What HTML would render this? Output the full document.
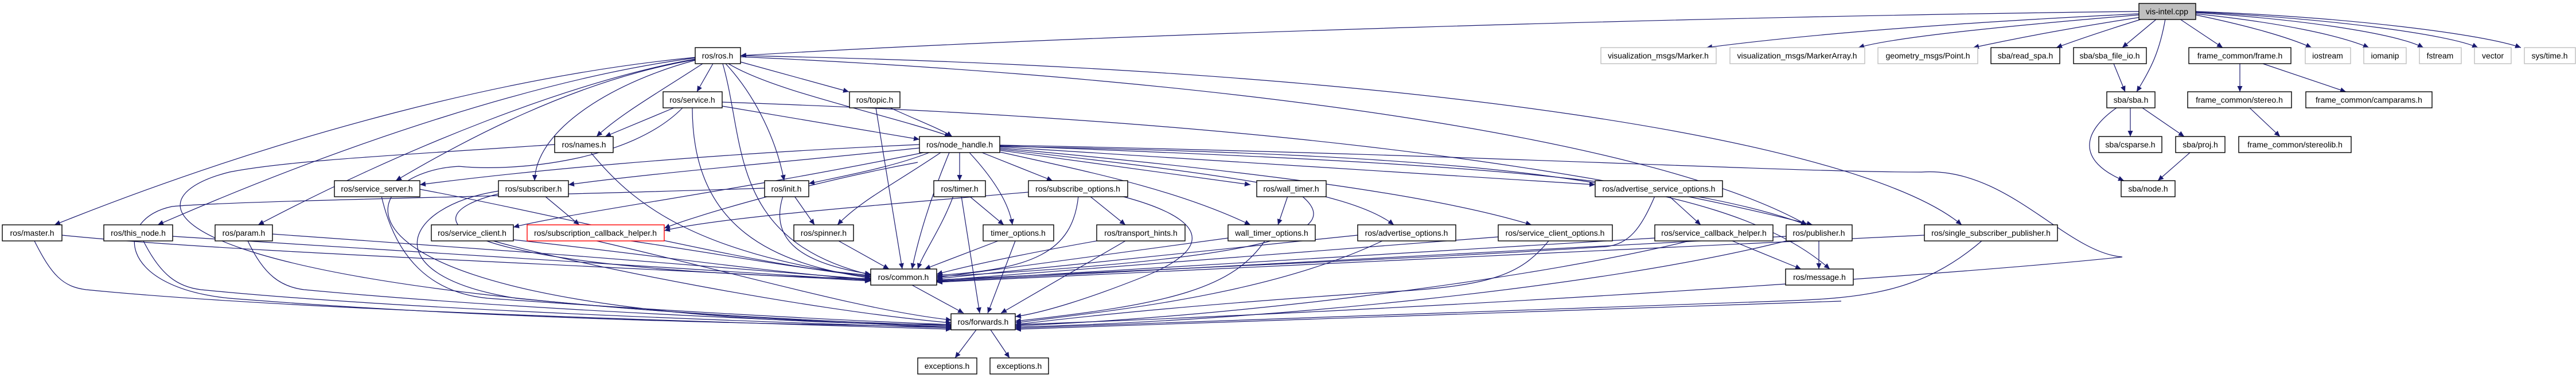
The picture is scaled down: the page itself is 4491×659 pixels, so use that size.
<!DOCTYPE html>
<html><head><meta charset="utf-8"><style>
html,body{margin:0;padding:0;background:#fff}
svg{display:block}
text{font-family:"Liberation Sans","DejaVu Sans",sans-serif;font-size:14px;fill:#000}
.n{fill:#fff;stroke:#000;stroke-width:1.4}
.g{fill:#fff;stroke:#bfbfbf;stroke-width:1.4}
.r{fill:#fff;stroke:#ff0000;stroke-width:1.4}
.e path{fill:none;stroke:#191970;stroke-width:1.2}
</style></head><body>
<svg width="4491" height="659" viewBox="0 0 4491 659" xmlns="http://www.w3.org/2000/svg">
<defs><marker id="a" markerUnits="userSpaceOnUse" markerWidth="11" markerHeight="9" refX="10" refY="4.5" orient="auto"><path d="M0,0 L10,4.5 L0,9 z" fill="#191970"/></marker></defs>
<g class="e" marker-end="url(#a)">
<path d="M3729,20 C3000,28 1900,60 1291,97"/>
<path d="M3729,24 C3400,40 3150,60 2975,83"/>
<path d="M3729,26 C3500,45 3300,65 3240,83"/>
<path d="M3732,30 C3600,50 3500,70 3440,83"/>
<path d="M3735,33 C3680,50 3620,70 3585,83"/>
<path d="M3760,33 L3700,83"/>
<path d="M3775,33 C3765,90 3750,120 3725,160"/>
<path d="M3800,33 L3875,83"/>
<path d="M3828,26 C3920,45 3990,65 4030,83"/>
<path d="M3828,24 C3980,40 4080,62 4130,83"/>
<path d="M3828,22 C4030,35 4180,60 4225,83"/>
<path d="M3828,21 C4060,32 4270,60 4320,83"/>
<path d="M3828,20 C4100,30 4330,60 4395,83"/>
<path d="M3685,111 L3705,160"/>
<path d="M3905,111 L3905,160"/>
<path d="M3945,111 L4090,160"/>
<path d="M3922,188 L3975,238"/>
<path d="M3714,188 L3714,238"/>
<path d="M3735,188 L3808,238"/>
<path d="M3690,188 C3630,230 3620,280 3703,315"/>
<path d="M3818,266 L3762,315"/>
<path d="M1243,111 L1215,160"/>
<path d="M1291,108 L1480,160"/>
<path d="M1225,111 C1150,160 1080,200 1040,238"/>
<path d="M1212,105 C1080,140 935,220 932,315"/>
<path d="M1212,104 C1000,140 800,250 690,315"/>
<path d="M1212,100 C900,130 500,230 95,392"/>
<path d="M1212,101 C950,135 600,250 275,392"/>
<path d="M1212,103 C1000,140 700,260 450,392"/>
<path d="M1270,111 C1350,160 1550,200 1657,238"/>
<path d="M1265,111 C1320,170 1355,250 1367,315"/>
<path d="M1260,111 C1300,250 1270,420 1520,480"/>
<path d="M1291,99 C2200,140 2900,250 3150,392"/>
<path d="M1291,97 C2500,120 3250,250 3420,392"/>
<path d="M1175,188 L1055,238"/>
<path d="M1259,185 L1603,243"/>
<path d="M1207,188 C1207,400 1350,460 1518,485"/>
<path d="M1190,188 C1100,280 900,300 800,290 C600,300 500,560 1659,566"/>
<path d="M1259,178 C1900,200 2600,250 3160,392"/>
<path d="M1527,188 L1573,469"/>
<path d="M1552,188 C1600,210 1640,225 1660,238"/>
<path d="M1030,266 C1100,350 1200,440 1518,483"/>
<path d="M967,252 C700,270 500,280 400,300 C200,350 250,520 1659,568"/>
<path d="M1603,252 C1200,270 900,300 732,322"/>
<path d="M1603,258 C1400,280 1150,300 991,322"/>
<path d="M1620,266 C1560,290 1480,305 1410,320"/>
<path d="M1610,266 C1300,330 1000,370 895,396"/>
<path d="M1600,283 C1400,320 1200,380 1158,398"/>
<path d="M1640,266 C1560,320 1500,350 1460,392"/>
<path d="M1673,266 L1673,315"/>
<path d="M1690,266 C1740,320 1760,360 1765,392"/>
<path d="M1712,266 L1835,315"/>
<path d="M1743,262 L2180,322"/>
<path d="M1743,265 C1900,300 2050,330 2180,392"/>
<path d="M1743,260 C2100,300 2350,330 2430,392"/>
<path d="M1743,256 L2781,322"/>
<path d="M1743,258 C2200,300 2500,340 2670,392"/>
<path d="M1743,254 C2400,280 2900,300 3150,392"/>
<path d="M1743,255 C2500,270 3000,300 3190,469"/>
<path d="M1655,266 C1620,350 1600,420 1590,469"/>
<path d="M1743,253 C2600,270 3100,300 3350,300 C3500,290 3600,440 3700,448 C3400,480 2500,540 1770,566"/>
<path d="M1793,335 C1500,360 1250,380 1158,402"/>
<path d="M1900,342 L1962,392"/>
<path d="M1880,342 C1870,440 1800,470 1633,480"/>
<path d="M1955,342 C2100,380 2120,430 2000,480 C1900,520 1820,545 1770,552"/>
<path d="M1690,342 L1750,392"/>
<path d="M1676,342 L1708,546"/>
<path d="M1662,342 C1640,400 1610,440 1600,469"/>
<path d="M1740,420 L1612,469"/>
<path d="M1770,420 L1722,546"/>
<path d="M1912,420 C1800,440 1700,460 1633,478"/>
<path d="M1962,420 L1745,546"/>
<path d="M2245,342 L2228,392"/>
<path d="M2270,342 C2340,400 2250,450 1633,482"/>
<path d="M2141,415 L1633,484"/>
<path d="M2205,420 C2150,500 2050,530 1770,560"/>
<path d="M2367,410 L1633,486"/>
<path d="M2410,420 C2200,520 1900,545 1770,563"/>
<path d="M2910,342 L2965,392"/>
<path d="M2885,342 C2860,400 2840,425 2800,430 C2500,450 2000,470 1633,488"/>
<path d="M2612,413 L1633,489"/>
<path d="M2700,420 C2650,480 2600,500 2400,510 C2100,530 1900,550 1770,566"/>
<path d="M2885,415 L1633,490"/>
<path d="M2945,420 C2700,480 2200,550 1770,568"/>
<path d="M3020,420 L3140,469"/>
<path d="M3171,420 L3171,469"/>
<path d="M3114,412 L1633,491"/>
<path d="M3114,420 C2800,500 2200,560 1770,570"/>
<path d="M3355,410 L1633,492"/>
<path d="M3455,420 C3350,510 3250,520 3100,525 C2500,545 2000,565 1770,572"/>
<path d="M3210,525 C2500,545 2000,570 1770,574"/>
<path d="M732,330 C1000,380 1300,460 1518,482"/>
<path d="M665,342 C690,450 750,510 850,520 C1200,545 1500,560 1659,566"/>
<path d="M950,342 L1010,392"/>
<path d="M869,338 C700,380 780,470 1518,486"/>
<path d="M869,333 C700,360 650,480 900,520 C1200,550 1500,565 1659,570"/>
<path d="M895,418 C1100,440 1300,470 1518,488"/>
<path d="M860,420 C1000,460 1400,540 1659,563"/>
<path d="M1100,420 C1300,450 1400,470 1518,480"/>
<path d="M1040,420 C1300,480 1500,540 1659,558"/>
<path d="M1385,342 L1420,392"/>
<path d="M1365,342 C1340,420 1400,460 1518,478"/>
<path d="M1333,328 C1000,340 400,350 300,360 C200,380 200,500 400,520 C900,560 1400,565 1659,570"/>
<path d="M1462,420 L1550,469"/>
<path d="M108,410 C400,440 1000,460 1518,490"/>
<path d="M60,420 C90,480 110,500 150,505 C500,540 1200,560 1659,574"/>
<path d="M301,412 C700,440 1100,460 1518,489"/>
<path d="M250,420 C280,480 310,500 350,505 C700,540 1300,560 1659,572"/>
<path d="M475,408 C800,430 1200,460 1518,487"/>
<path d="M432,420 C460,480 490,500 530,505 C900,540 1400,560 1659,570"/>
<path d="M1590,497 L1680,546"/>
<path d="M1702,575 L1665,624"/>
<path d="M1727,575 L1760,624"/>
</g>
<g>
<rect class="n" x="3729" y="6" width="99" height="28" style="fill:#bfbfbf"/><text x="3778" y="25" text-anchor="middle">vis-intel.cpp</text>
<rect class="n" x="1212" y="83" width="79" height="28"/><text x="1251" y="102" text-anchor="middle">ros/ros.h</text>
<rect class="g" x="2791" y="83" width="201" height="28"/><text x="2891" y="102" text-anchor="middle">visualization_msgs/Marker.h</text>
<rect class="g" x="3016" y="83" width="235" height="28"/><text x="3133" y="102" text-anchor="middle">visualization_msgs/MarkerArray.h</text>
<rect class="g" x="3274" y="83" width="174" height="28"/><text x="3361" y="102" text-anchor="middle">geometry_msgs/Point.h</text>
<rect class="n" x="3471" y="83" width="120" height="28"/><text x="3531" y="102" text-anchor="middle">sba/read_spa.h</text>
<rect class="n" x="3615" y="83" width="127" height="28"/><text x="3678" y="102" text-anchor="middle">sba/sba_file_io.h</text>
<rect class="n" x="3816" y="83" width="178" height="28"/><text x="3905" y="102" text-anchor="middle">frame_common/frame.h</text>
<rect class="g" x="4019" y="83" width="79" height="28"/><text x="4058" y="102" text-anchor="middle">iostream</text>
<rect class="g" x="4121" y="83" width="74" height="28"/><text x="4158" y="102" text-anchor="middle">iomanip</text>
<rect class="g" x="4218" y="83" width="73" height="28"/><text x="4254" y="102" text-anchor="middle">fstream</text>
<rect class="g" x="4314" y="83" width="64" height="28"/><text x="4346" y="102" text-anchor="middle">vector</text>
<rect class="g" x="4401" y="83" width="89" height="28"/><text x="4445" y="102" text-anchor="middle">sys/time.h</text>
<rect class="n" x="1156" y="160" width="103" height="28"/><text x="1207" y="179" text-anchor="middle">ros/service.h</text>
<rect class="n" x="1481" y="160" width="88" height="28"/><text x="1525" y="179" text-anchor="middle">ros/topic.h</text>
<rect class="n" x="3673" y="160" width="84" height="28"/><text x="3715" y="179" text-anchor="middle">sba/sba.h</text>
<rect class="n" x="3814" y="160" width="181" height="28"/><text x="3904" y="179" text-anchor="middle">frame_common/stereo.h</text>
<rect class="n" x="4020" y="160" width="220" height="28"/><text x="4130" y="179" text-anchor="middle">frame_common/camparams.h</text>
<rect class="n" x="967" y="238" width="102" height="28"/><text x="1018" y="257" text-anchor="middle">ros/names.h</text>
<rect class="n" x="1603" y="238" width="140" height="28"/><text x="1673" y="257" text-anchor="middle">ros/node_handle.h</text>
<rect class="n" x="3659" y="238" width="110" height="28"/><text x="3714" y="257" text-anchor="middle">sba/csparse.h</text>
<rect class="n" x="3793" y="238" width="86" height="28"/><text x="3836" y="257" text-anchor="middle">sba/proj.h</text>
<rect class="n" x="3903" y="238" width="196" height="28"/><text x="4001" y="257" text-anchor="middle">frame_common/stereolib.h</text>
<rect class="n" x="583" y="315" width="149" height="28"/><text x="657" y="334" text-anchor="middle">ros/service_server.h</text>
<rect class="n" x="869" y="315" width="122" height="28"/><text x="930" y="334" text-anchor="middle">ros/subscriber.h</text>
<rect class="n" x="1333" y="315" width="77" height="28"/><text x="1371" y="334" text-anchor="middle">ros/init.h</text>
<rect class="n" x="1628" y="315" width="90" height="28"/><text x="1673" y="334" text-anchor="middle">ros/timer.h</text>
<rect class="n" x="1793" y="315" width="173" height="28"/><text x="1879" y="334" text-anchor="middle">ros/subscribe_options.h</text>
<rect class="n" x="2191" y="315" width="121" height="28"/><text x="2251" y="334" text-anchor="middle">ros/wall_timer.h</text>
<rect class="n" x="2781" y="315" width="222" height="28"/><text x="2892" y="334" text-anchor="middle">ros/advertise_service_options.h</text>
<rect class="n" x="3698" y="315" width="94" height="28"/><text x="3745" y="334" text-anchor="middle">sba/node.h</text>
<rect class="n" x="4" y="392" width="104" height="28"/><text x="56" y="411" text-anchor="middle">ros/master.h</text>
<rect class="n" x="181" y="392" width="120" height="28"/><text x="241" y="411" text-anchor="middle">ros/this_node.h</text>
<rect class="n" x="375" y="392" width="100" height="28"/><text x="425" y="411" text-anchor="middle">ros/param.h</text>
<rect class="n" x="752" y="392" width="143" height="28"/><text x="823" y="411" text-anchor="middle">ros/service_client.h</text>
<rect class="r" x="919" y="392" width="239" height="28"/><text x="1038" y="411" text-anchor="middle">ros/subscription_callback_helper.h</text>
<rect class="n" x="1384" y="392" width="104" height="28"/><text x="1436" y="411" text-anchor="middle">ros/spinner.h</text>
<rect class="n" x="1714" y="392" width="123" height="28"/><text x="1775" y="411" text-anchor="middle">timer_options.h</text>
<rect class="n" x="1912" y="392" width="154" height="28"/><text x="1989" y="411" text-anchor="middle">ros/transport_hints.h</text>
<rect class="n" x="2141" y="392" width="152" height="28"/><text x="2217" y="411" text-anchor="middle">wall_timer_options.h</text>
<rect class="n" x="2367" y="392" width="171" height="28"/><text x="2452" y="411" text-anchor="middle">ros/advertise_options.h</text>
<rect class="n" x="2612" y="392" width="199" height="28"/><text x="2711" y="411" text-anchor="middle">ros/service_client_options.h</text>
<rect class="n" x="2885" y="392" width="206" height="28"/><text x="2988" y="411" text-anchor="middle">ros/service_callback_helper.h</text>
<rect class="n" x="3114" y="392" width="115" height="28"/><text x="3171" y="411" text-anchor="middle">ros/publisher.h</text>
<rect class="n" x="3355" y="392" width="232" height="28"/><text x="3471" y="411" text-anchor="middle">ros/single_subscriber_publisher.h</text>
<rect class="n" x="1518" y="469" width="115" height="28"/><text x="1575" y="488" text-anchor="middle">ros/common.h</text>
<rect class="n" x="3113" y="469" width="118" height="28"/><text x="3172" y="488" text-anchor="middle">ros/message.h</text>
<rect class="n" x="1658" y="547" width="112" height="28"/><text x="1714" y="566" text-anchor="middle">ros/forwards.h</text>
<rect class="n" x="1600" y="624" width="103" height="28"/><text x="1651" y="643" text-anchor="middle">exceptions.h</text>
<rect class="n" x="1726" y="624" width="102" height="28"/><text x="1777" y="643" text-anchor="middle">exceptions.h</text>
</g>
</svg>
</body></html>
